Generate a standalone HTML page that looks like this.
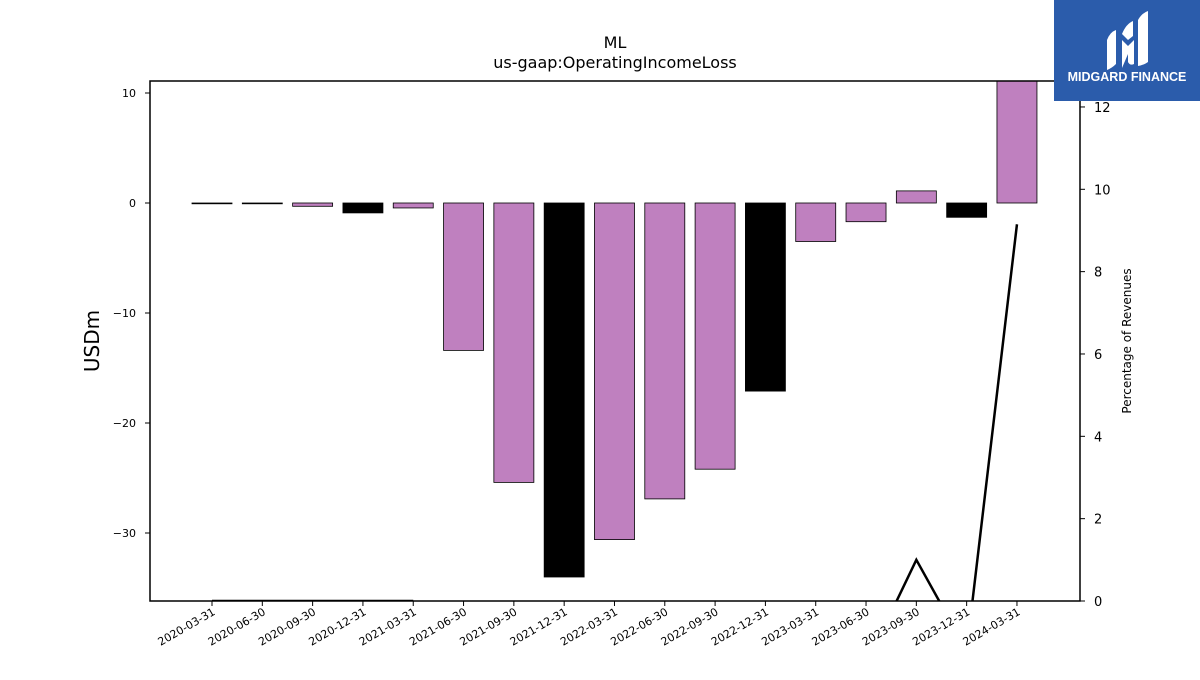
<!DOCTYPE html>
<html><head><meta charset="utf-8"><style>
body{margin:0;background:#fff;width:1200px;height:675px;overflow:hidden;font-family:"Liberation Sans","DejaVu Sans",sans-serif}
</style></head><body>
<svg id="chart" width="1200" height="675" xmlns="http://www.w3.org/2000/svg" font-family="DejaVu Sans, Liberation Sans, sans-serif">
<text x="615" y="48" text-anchor="middle" font-size="16">ML</text>
<text x="615" y="68" text-anchor="middle" font-size="16">us-gaap:OperatingIncomeLoss</text>
<text transform="translate(99,341) rotate(-90)" text-anchor="middle" font-size="20">USDm</text>
<text transform="translate(1131,341) rotate(-90)" text-anchor="middle" font-size="12">Percentage of Revenues</text>
<defs><clipPath id="plotclip"><rect x="150" y="81" width="930" height="520"/></clipPath></defs>
<g id="bars" clip-path="url(#plotclip)"></g>
<g id="line" clip-path="url(#plotclip)"></g>
<rect x="150" y="81" width="930" height="520" fill="none" stroke="#000" stroke-width="1.5"/>
<g id="axes"></g>
<g>
<rect x="1054" y="0" width="146" height="101" fill="#2b5cab"/>
<path d="M1107 70 L1107 40 Q1110 32 1116 30 L1116 64 Q1112 68 1107 70Z" fill="#fff"/>
<path d="M1122 68 L1122 40 L1128 46 L1134 40 L1134 64 Q1130 66 1128 62 L1128 54 Z" fill="#fff"/>
<path d="M1138 66 L1138 20 Q1142 13 1148 11 L1148 62 Q1144 65 1138 66Z" fill="#fff"/>
<path d="M1122 34 Q1126 24 1133 21 L1133 36 L1128 40 Z" fill="#fff"/>
<text x="1127" y="81" text-anchor="middle" fill="#fff" font-size="12.5" font-weight="bold" font-family="Liberation Sans, sans-serif">MIDGARD FINANCE</text>
</g>
</svg>
<script>
const categories=["2020-03-31","2020-06-30","2020-09-30","2020-12-31","2021-03-31","2021-06-30","2021-09-30","2021-12-31","2022-03-31","2022-06-30","2022-09-30","2022-12-31","2023-03-31","2023-06-30","2023-09-30","2023-12-31","2024-03-31"];
const incomeValues=[-0.05,-0.05,-0.3,-0.9,-0.45,-13.4,-25.4,-34.0,-30.6,-26.9,-24.2,-17.1,-3.5,-1.7,1.1,-1.3,14.0];
const pctValues=[0,0,0,0,0,null,null,null,null,null,null,null,null,-1.55,1.0,-1.2,9.15];
const leftTicks=[10,0,-10,-20,-30];
const rightTicks=[0,2,4,6,8,10,12];
const NS="http://www.w3.org/2000/svg";
const x0=212,step=50.31,bw=40;
const xPos=i=>x0+i*step;
const yL=v=>203-v*11;
const yR=v=>601-v*41.17;
function mk(t,a,p){const e=document.createElementNS(NS,t);for(const k in a)e.setAttribute(k,a[k]);p.appendChild(e);return e;}
const bars=document.getElementById('bars'),line=document.getElementById('line'),axes=document.getElementById('axes');
incomeValues.forEach((v,i)=>{
 const q4=categories[i].endsWith("12-31");
 const y1=Math.min(yL(v),yL(0)),h=Math.max(Math.abs(yL(v)-yL(0)),0.8);
 const r=mk('rect',{x:xPos(i)-bw/2,y:y1,width:bw,height:h,fill:q4?'#000':'#bf80bf',stroke:'#000','stroke-width':0.8},bars);
 
 
});
let d='',pen=false;
pctValues.forEach((v,i)=>{
 if(v===null){pen=false;return;}
 d+=(pen?'L':'M')+xPos(i)+' '+yR(v)+' ';pen=true;
});
const pl=mk('path',{d:d,fill:'none',stroke:'#000','stroke-width':2.5},line);


leftTicks.forEach(t=>{
 const y=yL(t);
 mk('line',{x1:145,x2:150,y1:y,y2:y,stroke:'#000'},axes);
 const tx=mk('text',{x:136,y:y+4,'text-anchor':'end','font-size':11},axes);
 tx.textContent=(t<0?'\u2212':'')+Math.abs(t);
 
 
});
rightTicks.forEach(t=>{
 const y=yR(t);
 mk('line',{x1:1080,x2:1085,y1:y,y2:y,stroke:'#000'},axes);
 const tx=mk('text',{x:1094,y:y+5,'font-size':13},axes);
 tx.textContent=t;
 
 
});
categories.forEach((c,i)=>{
 const x=xPos(i);
 mk('line',{x1:x,x2:x,y1:601,y2:606,stroke:'#000'},axes);
 const tx=mk('text',{x:x+4,y:614,'text-anchor':'end','font-size':11,transform:`rotate(-30 ${x+4} 614)`},axes);
 tx.textContent=c;
 
 
});
</script>
</body></html>
